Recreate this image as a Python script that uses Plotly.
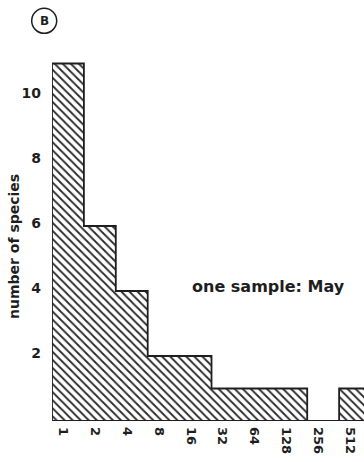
import plotly.graph_objects as go

# Data
size_classes = ["1", "2", "4", "8", "16", "32", "64", "128", "256", "512"]
species_counts = [11, 6, 4, 2, 2, 1, 1, 1, 0, 1]
y_ticks = [2, 4, 6, 8, 10]

n = len(size_classes)
centers = [k + 0.5 for k in range(n)]

# Step outline built from the data (bin edges are integer positions)
step_x = [0]
step_y = [0]
for k, v in enumerate(species_counts):
    step_x += [k, k + 1]
    step_y += [v, v]
step_x += [n, 0]
step_y += [0, 0]

FONT = "DejaVu Sans"
INK = "#1e1e1e"

fig = go.Figure()
fig.add_trace(go.Bar(
    x=centers, y=species_counts, width=1.0,
    marker=dict(color="white", line=dict(width=0),
                pattern=dict(shape="\\", fgcolor="#2a2a2a", bgcolor="white",
                             size=5.7, solidity=0.32, fillmode="replace")),
    showlegend=False, hoverinfo="skip",
))
fig.add_trace(go.Scatter(
    x=step_x, y=step_y, mode="lines",
    line=dict(color=INK, width=1.8), showlegend=False, hoverinfo="skip",
))

fig.update_layout(
    width=364, height=462,
    margin=dict(l=52, r=0, t=53, b=41),
    paper_bgcolor="white", plot_bgcolor="white",
    bargap=0,
    xaxis=dict(range=[0, 9.78], showgrid=False, zeroline=False, showline=False,
               tickmode="array", tickvals=[k + 0.35 for k in range(n)],
               ticktext=size_classes, tickangle=90, ticks="",
               ticklabelstandoff=5,
               tickfont=dict(family=FONT, size=13, color=INK, weight="bold")),
    yaxis=dict(range=[0, 368 / 32.5], showgrid=False, zeroline=False, showline=False,
               tickmode="array", tickvals=y_ticks, ticks="",
               ticklabelstandoff=10, ticklabelshift=-3,
               tickfont=dict(family=FONT, size=14, color=INK, weight="bold")),
    annotations=[
        dict(text="number of species", xref="paper", yref="paper",
             x=-0.1218, y=0.4755, textangle=-90, showarrow=False,
             xanchor="center", yanchor="middle",
             font=dict(family=FONT, size=14, color=INK, weight="bold")),
        dict(text="one sample: May", xref="paper", yref="paper",
             x=0.6955, y=0.365, showarrow=False,
             xanchor="center", yanchor="middle",
             font=dict(family=FONT, size=16, color=INK, weight="bold")),
        dict(text="B", xref="paper", yref="paper",
             x=-0.025, y=1.0875, showarrow=False,
             xanchor="center", yanchor="middle",
             font=dict(family=FONT, size=12, color=INK, weight="bold")),
    ],
    shapes=[
        dict(type="circle", xref="paper", yref="paper",
             x0=-0.0651, x1=0.0151, y0=1.0535, y1=1.1215,
             line=dict(color=INK, width=1.5)),
    ],
)

fig.write_html("out.html")
